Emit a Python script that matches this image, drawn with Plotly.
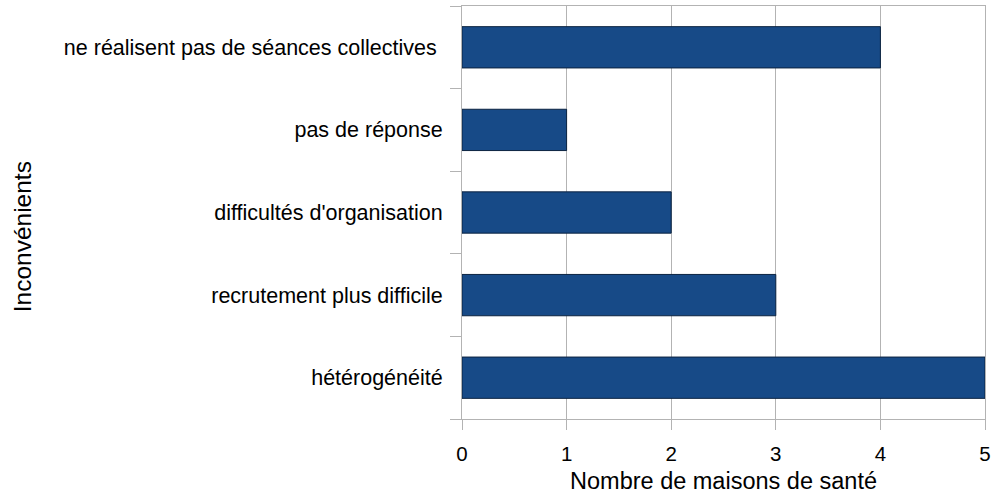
import plotly.graph_objects as go

# ==========================================================
# DATA
# ==========================================================
categories = [
    "hétérogénéité",
    "recrutement plus difficile",
    "difficultés d'organisation",
    "pas de réponse",
    "ne réalisent pas de séances collectives ",
]
counts = [5, 3, 2, 1, 4]
x_ticks = [0, 1, 2, 3, 4, 5]

FONT = "Liberation Sans, Arial, sans-serif"
GRID = "#b3b3b3"

fig = go.Figure(
    go.Bar(
        x=counts,
        y=categories,
        orientation="h",
        marker=dict(color="#174a87", line=dict(color="#0b2340", width=1)),
        width=0.5,
    )
)

fig.update_layout(
    width=991,
    height=494,
    margin=dict(l=462, r=6, t=6, b=75),
    plot_bgcolor="white",
    paper_bgcolor="white",
    font=dict(family=FONT, color="#000000"),
    showlegend=False,
    bargap=0.5,
)

fig.update_xaxes(
    automargin=False,
    range=[0, 5],
    tickvals=x_ticks,
    showgrid=True,
    gridcolor=GRID,
    gridwidth=1,
    zeroline=False,
    showline=True,
    linecolor=GRID,
    mirror=True,
    ticks="outside",
    ticklen=10,
    tickcolor=GRID,
    tickfont=dict(size=20.5),
    ticklabelstandoff=6,
    title=dict(text="Nombre de maisons de santé", font=dict(size=23.5), standoff=9),
)

fig.update_yaxes(
    automargin=False,
    categoryorder="array",
    categoryarray=categories,
    tickson="boundaries",
    ticks="outside",
    ticklen=11,
    tickcolor=GRID,
    showgrid=False,
    showline=True,
    linecolor=GRID,
    mirror=True,
    tickfont=dict(size=21.5),
    ticklabelstandoff=14,
)

# y-axis title placed manually at the far left
fig.add_annotation(
    text="Inconvénients",
    xref="paper",
    yref="paper",
    x=(22 - 462) / 523,
    y=0.44,
    textangle=-90,
    showarrow=False,
    font=dict(size=24.5),
    xanchor="center",
    yanchor="middle",
)

# drop the default body margin so the figure sits at the page corner
fig.write_html(
    "out.html",
    config={"displayModeBar": False},
    post_script="document.body.style.margin='0';",
)
